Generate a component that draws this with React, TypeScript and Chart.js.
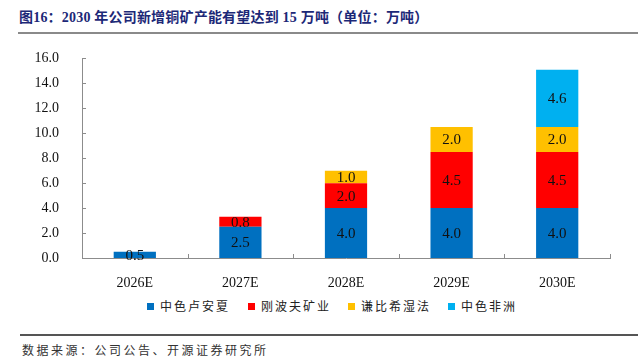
import React, { useEffect, useRef } from "react";
import { Chart, registerables } from "chart.js";

Chart.register(...registerables);

const categories = ["2026E", "2027E", "2028E", "2029E", "2030E"];
const seriesNames = ["中色卢安夏", "刚波夫矿业", "谦比希湿法", "中色非洲"];
const luanshya = [0.5, 2.5, 4.0, 4.0, 4.0];
const chambishi = [null, 0.8, 2.0, 4.5, 4.5];
const qianbixi = [null, null, 1.0, 2.0, 2.0];
const africa = [null, null, null, null, 4.6];
const seriesColors = ["#0070C0", "#FF0000", "#FFC000", "#00B0F0"];
const yTicks = [0, 2, 4, 6, 8, 10, 12, 14, 16];

const SERIF = "'Times New Roman', 'Liberation Serif', 'Noto Sans CJK SC', serif";
const CJK = "'Liberation Serif', 'Noto Sans CJK SC', sans-serif";

const innerTicks = {
  id: "innerTicks",
  afterDraw(chart: any) {
    const { ctx, chartArea } = chart;
    const x = chart.scales.x;
    const y = chart.scales.y;
    ctx.save();
    ctx.strokeStyle = "#8c8c8c";
    ctx.lineWidth = 1;
    ctx.beginPath();
    const n = categories.length;
    for (let i = 1; i <= n; i++) {
      const px = Math.round((x.getPixelForValue(i - 1) + (i < n ? x.getPixelForValue(i) : 2 * x.getPixelForValue(i - 1) - x.getPixelForValue(i - 2))) / 2) + 0.5;
      ctx.moveTo(px, chartArea.bottom);
      ctx.lineTo(px, chartArea.bottom - 4);
    }
    yTicks.forEach((v) => {
      const py = Math.round(y.getPixelForValue(v)) + 0.5;
      ctx.moveTo(chartArea.left, py);
      ctx.lineTo(chartArea.left + 4, py);
    });
    ctx.stroke();
    ctx.restore();
  },
};

const barLabels = {
  id: "barLabels",
  afterDatasetsDraw(chart: any) {
    const { ctx } = chart;
    ctx.save();
    ctx.font = "15px " + SERIF;
    ctx.fillStyle = "#111";
    ctx.textAlign = "center";
    ctx.textBaseline = "middle";
    chart.data.datasets.forEach((ds: any, di: number) => {
      const meta = chart.getDatasetMeta(di);
      meta.data.forEach((el: any, i: number) => {
        const v = ds.data[i];
        if (v == null) return;
        ctx.fillText(v.toFixed(1), el.x, (el.y + el.base) / 2 + 1);
      });
    });
    ctx.restore();
  },
};

export default function App() {
  const ref = useRef<HTMLCanvasElement>(null);
  useEffect(() => {
    if (!ref.current) return;
    const data = [luanshya, chambishi, qianbixi, africa];
    const chart = new Chart(ref.current, {
      type: "bar",
      data: {
        labels: categories,
        datasets: data.map((d, i) => ({
          label: seriesNames[i],
          data: d as any,
          backgroundColor: seriesColors[i],
          borderWidth: 0,
          categoryPercentage: 1,
          barPercentage: 0.4,
        })),
      },
      options: {
        animation: false,
        responsive: false,
        maintainAspectRatio: false,
        layout: { padding: { left: 0, right: 28, top: 12, bottom: 0 } },
        plugins: { legend: { display: false }, tooltip: { enabled: false } },
        scales: {
          x: {
            stacked: true,
            grid: { display: false },
            border: { display: true, color: "#8c8c8c", width: 1 },
            ticks: { color: "#111", font: { family: SERIF, size: 14 }, padding: 9 },
            afterFit(s: any) { s.height = 32; },
          },
          y: {
            stacked: true,
            min: 0,
            max: 16,
            grid: { display: false },
            border: { display: true, color: "#8c8c8c", width: 1 },
            ticks: {
              stepSize: 2,
              color: "#111",
              font: { family: SERIF, size: 14 },
              padding: 15,
              callback: (v: any) => Number(v).toFixed(1),
            },
            afterFit(s: any) { s.width = 82; },
          },
        },
      },
      plugins: [innerTicks, barLabels],
    });
    return () => chart.destroy();
  }, []);

  return (
    <div style={{ position: "fixed", left: 0, top: 0, width: 638, height: 359, background: "#fff", overflow: "hidden" }}>
      <div style={{ position: "absolute", left: 19, top: 8, fontFamily: SERIF, fontWeight: 700, fontSize: 14, letterSpacing: 0.2, color: "#1c2877", whiteSpace: "nowrap", lineHeight: "20px" }}>
        图16：2030 年公司新增铜矿产能有望达到 15 万吨（单位：万吨）
      </div>
      <div style={{ position: "absolute", left: 18, top: 32, width: 620, height: 2, background: "#8a8a8a" }} />
      <canvas ref={ref} width={638} height={255} style={{ position: "absolute", left: 0, top: 35, width: 638, height: 255 }} />
      {seriesNames.map((n, i) => (
        <div key={n} style={{ position: "absolute", left: [147, 248, 348, 448][i], top: 297, height: 18, display: "flex", alignItems: "center", whiteSpace: "nowrap" }}>
          <span style={{ display: "inline-block", width: 7, height: 7, background: seriesColors[i], marginRight: 6 }} />
          <span style={{ fontFamily: CJK, fontSize: 12, letterSpacing: 2, color: "#222" }}>{n}</span>
        </div>
      ))}
      <div style={{ position: "absolute", left: 20, top: 334, width: 618, height: 1.5, background: "#555" }} />
      <div style={{ position: "absolute", left: 22, top: 343, fontFamily: CJK, fontSize: 12, letterSpacing: 2.5, color: "#333", whiteSpace: "nowrap", lineHeight: "16px" }}>
        数据来源：公司公告、开源证券研究所
      </div>
    </div>
  );
}
